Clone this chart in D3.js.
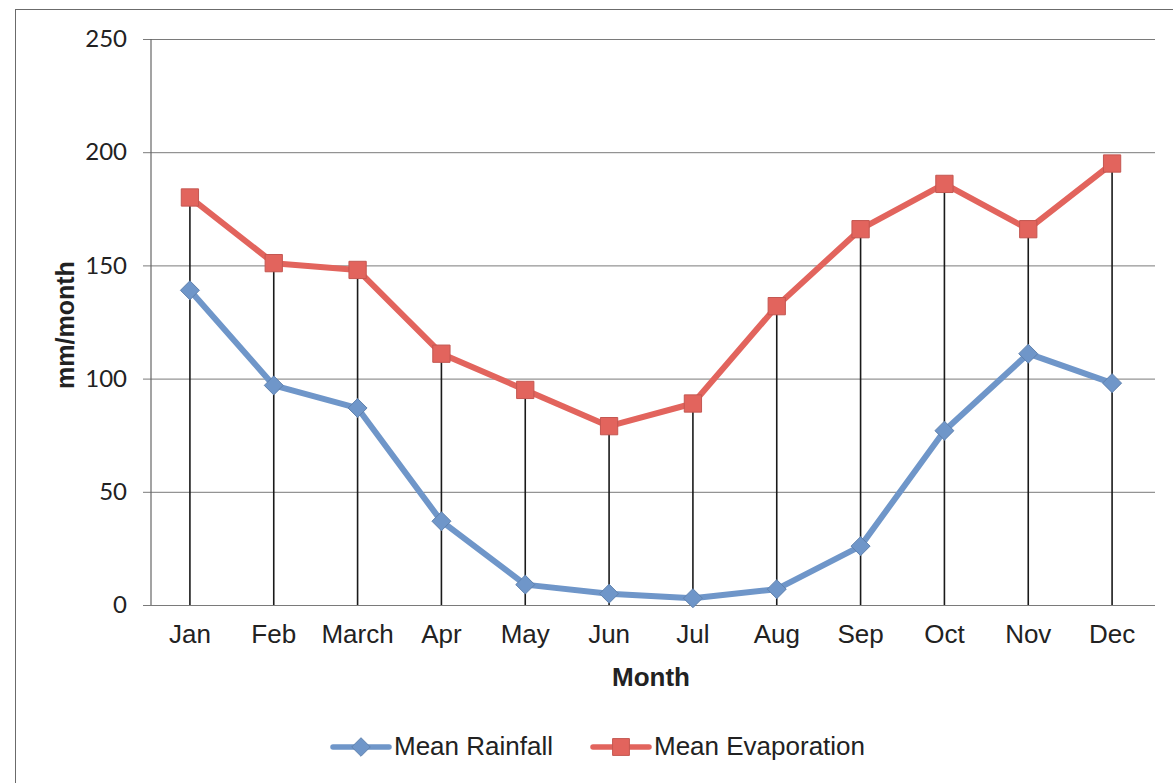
<!DOCTYPE html>
<html>
<head>
<meta charset="utf-8">
<script src="https://cdn.jsdelivr.net/npm/d3@7"></script>
<style>
  html, body { margin: 0; padding: 0; background: #fff; }
  svg { display: block; }
</style>
</head>
<body>
<svg id="chart" width="1173" height="783"></svg>
<script>
// Monthly climate means (mm/month)
const months = ["Jan", "Feb", "March", "Apr", "May", "Jun", "Jul", "Aug", "Sep", "Oct", "Nov", "Dec"];
const rainfall = [139, 97, 87, 37, 9, 5, 3, 7, 26, 77, 111, 98];
const evaporation = [180, 151, 148, 111, 95, 79, 89, 132, 166, 186, 166, 195];
const yTicks = [0, 50, 100, 150, 200, 250];

const svg = d3.select("#chart");
const W = 1173, H = 783;
const plot = { left: 151, right: 1155, top: 39, bottom: 605 };

const rainColor = "#6f96c9";
const evapColor = "#e2645d";
const sans = "'Liberation Sans', Arial, sans-serif";

// Outer chart frame
svg.append("rect")
  .attr("x", 15.5).attr("y", 9.5)
  .attr("width", W + 20).attr("height", H + 20)
  .attr("fill", "none").attr("stroke", "#6b6b6b").attr("stroke-width", 1);

const x = d3.scaleBand().domain(months).range([148, 1154]);
const y = d3.scaleLinear().domain([0, 250]).range([plot.bottom, plot.top]);
const cx = m => x(m) + x.bandwidth() / 2;

// Horizontal gridlines with short outside ticks
const yAxis = d3.axisLeft(y).tickValues(yTicks)
  .tickSize(-(plot.right - plot.left)).tickPadding(24);
const gy = svg.append("g")
  .attr("transform", `translate(${plot.left},0)`)
  .call(yAxis);
gy.select(".domain").remove();
gy.selectAll(".tick line")
  .attr("x1", -8)
  .attr("stroke", "#7a7a7a").attr("stroke-width", 1);
gy.selectAll(".tick text")
  .attr("font-family", "Lato, 'Liberation Sans', sans-serif")
  .attr("font-size", 24).attr("fill", "#222");

// Vertical axis line
svg.append("line")
  .attr("x1", plot.left).attr("x2", plot.left)
  .attr("y1", plot.top).attr("y2", plot.bottom)
  .attr("stroke", "#666").attr("stroke-width", 1.2);

// Category axis labels
const xAxis = d3.axisBottom(x).tickSize(0).tickPadding(20);
const gx = svg.append("g")
  .attr("transform", `translate(0,${plot.bottom})`)
  .call(xAxis);
gx.select(".domain").remove();
gx.selectAll(".tick text")
  .attr("font-family", sans)
  .attr("font-size", 26).attr("fill", "#222");

// Drop lines from the highest point down to the category axis
svg.append("g").selectAll("line")
  .data(months)
  .join("line")
  .attr("x1", d => cx(d)).attr("x2", d => cx(d))
  .attr("y1", (d, i) => y(Math.max(rainfall[i], evaporation[i])))
  .attr("y2", y(0))
  .attr("stroke", "#1a1a1a").attr("stroke-width", 1.6);

// Axis titles
svg.append("text")
  .attr("x", 651).attr("y", 686)
  .attr("text-anchor", "middle")
  .attr("font-family", sans)
  .attr("font-size", 26).attr("font-weight", "bold").attr("fill", "#222")
  .text("Month");

svg.append("text")
  .attr("transform", `translate(74,${(plot.top + plot.bottom) / 2 + 3}) rotate(-90)`)
  .attr("text-anchor", "middle")
  .attr("font-family", sans)
  .attr("font-size", 25).attr("font-weight", "bold").attr("fill", "#222")
  .text("mm/month");

const line = d3.line().x(d => cx(d.m)).y(d => y(d.v));

function drawSeries(values, color, shape, size) {
  const pts = months.map((m, i) => ({ m, v: values[i] }));
  svg.append("path")
    .datum(pts)
    .attr("d", line)
    .attr("fill", "none").attr("stroke", color)
    .attr("stroke-width", 6).attr("stroke-linejoin", "round");
  svg.append("g").selectAll("path")
    .data(pts)
    .join("path")
    .attr("transform", d => `translate(${cx(d.m)},${y(d.v)})`)
    .attr("d", d3.symbol().type(shape).size(size))
    .attr("fill", color)
    .attr("stroke", d3.color(color).darker(0.4)).attr("stroke-width", 1);
}

drawSeries(rainfall, rainColor, d3.symbolDiamond2, 230);
drawSeries(evaporation, evapColor, d3.symbolSquare2, 380);

// Legend
const legend = svg.append("g");
const items = [
  { label: "Mean Rainfall", color: rainColor, shape: d3.symbolDiamond2, size: 220, x: 333 },
  { label: "Mean Evaporation", color: evapColor, shape: d3.symbolSquare2, size: 360, x: 593 }
];
items.forEach(it => {
  const g = legend.append("g").attr("transform", `translate(${it.x},747)`);
  g.append("line").attr("x1", 0).attr("x2", 56)
    .attr("stroke", it.color).attr("stroke-width", 5.5).attr("stroke-linecap", "round");
  g.append("path").attr("transform", "translate(28,0)")
    .attr("d", d3.symbol().type(it.shape).size(it.size))
    .attr("fill", it.color).attr("stroke", d3.color(it.color).darker(0.4));
  g.append("text").attr("x", 61).attr("y", 8)
    .attr("font-family", sans)
    .attr("font-size", 26).attr("fill", "#222")
    .text(it.label);
});
</script>
</body>
</html>
